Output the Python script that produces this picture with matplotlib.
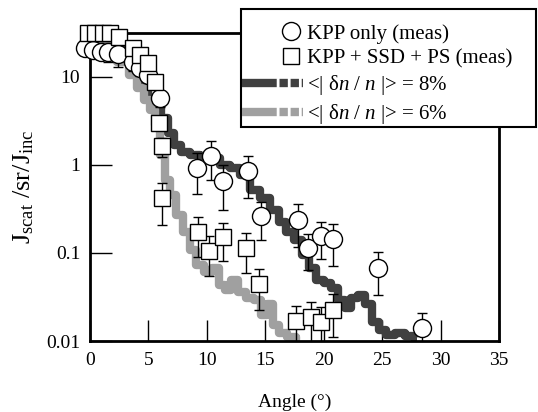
import matplotlib
matplotlib.use("Agg")
import matplotlib.pyplot as plt
from matplotlib.lines import Line2D
from matplotlib.patches import Rectangle
from matplotlib.legend_handler import HandlerLine2D

plt.rcParams['font.family'] = ['Liberation Serif', 'DejaVu Serif']
plt.rcParams['mathtext.fontset'] = 'custom'
plt.rcParams['mathtext.rm'] = 'Liberation Serif'
plt.rcParams['mathtext.it'] = 'Liberation Serif:italic'
plt.rcParams['lines.scale_dashes'] = False

# simulated curves (step-like)
sim8_x = [0.0, 1.7, 3.0, 3.85, 4.7, 5.3, 5.8, 6.4, 7.0, 7.45, 8.1, 9.0, 9.85, 10.7, 11.55,
          12.4, 13.25, 14.1, 15.0, 15.8, 16.5, 17.1, 17.8, 18.4, 19.0, 19.7, 20.35, 20.95,
          21.55, 22.05, 22.65, 23.25, 23.8, 24.4, 25.0, 25.65, 26.5, 27.4, 28.0]
sim8_y = [30, 26, 20, 14.8, 9.2, 5.5, 4.4, 3.4, 2.3, 1.69, 1.41, 1.30, 1.27, 1.20, 1.0,
          0.92, 0.77, 0.52, 0.42, 0.31, 0.225, 0.174, 0.14, 0.095, 0.068, 0.049, 0.046, 0.040,
          0.029, 0.024, 0.031, 0.033, 0.026, 0.0165, 0.0134, 0.0117, 0.0123, 0.0114, 0.0108]

sim6_x = [0.0, 1.7, 3.0, 3.7, 4.3, 4.9, 5.4, 5.8, 6.25, 6.65, 7.1, 7.7, 8.3, 8.8, 9.4,
          10.1, 10.8, 11.3, 11.8, 12.4, 13.0, 13.7, 14.4, 14.9, 15.4, 15.9, 16.5, 17.3, 18.0]
sim6_y = [30, 25, 14.8, 10.5, 7.5, 5.5, 4.2, 2.85, 1.30, 0.67, 0.46, 0.27, 0.174, 0.108, 0.073,
          0.061, 0.068, 0.043, 0.038, 0.049, 0.036, 0.031, 0.029, 0.0197, 0.026, 0.0152, 0.0123, 0.011, 0.0103]

# KPP only (meas)
kpp_x = [-0.4, 0.25, 0.95, 1.55, 2.4, 3.7, 4.3, 5.0, 6.0, 9.15, 10.35, 11.4, 13.5, 14.65,
         17.8, 18.65, 19.75, 20.8, 24.65, 28.4]
kpp_y = [21.3, 20.3, 19.2, 19.2, 18.2, 14.8, 12.7, 10.5, 5.8, 0.92, 1.27, 0.66, 0.85, 0.26,
         0.237, 0.114, 0.156, 0.144, 0.068, 0.014]
kpp_err = [4.5, 3.5, 3.2, 4.4, 5.2, 3.0, 2.5, 2.0, 1.2, 0.45, 0.6, 0.35, 0.43, 0.12,
           0.12, 0.05, 0.07, 0.072, 0.035, 0.007]

# KPP + SSD + PS (meas)
ssd_x = [-0.15, 0.45, 1.1, 1.7, 2.5, 3.7, 4.3, 5.0, 5.55, 5.9, 6.15, 6.15, 9.25, 10.2,
         11.4, 13.35, 14.45, 17.6, 18.9, 19.75, 20.8]
ssd_y = [31.6, 31.6, 31.6, 31.6, 28.5, 21.3, 17.8, 14.4, 8.8, 3.0, 1.64, 0.42, 0.174, 0.105,
         0.152, 0.114, 0.0445, 0.0168, 0.0187, 0.0164, 0.0225]
ssd_err = [3, 3, 3, 3, 3, 2.5, 2, 2, 1.5, 0.5, 0.4, 0.21, 0.085, 0.05,
           0.07, 0.055, 0.022, 0.008, 0.009, 0.008, 0.0115]

labels = ['KPP only (meas)', 'KPP + SSD + PS (meas)',
          '<| δ$n$ / $n$ |> = 8%', '<| δ$n$ / $n$ |> = 6%']

dark = '#404040'
light = '#a0a0a0'


class RightMarker(HandlerLine2D):
    # legend marker sits at the right end of the handle
    def create_artists(self, legend, orig_handle, xdescent, ydescent, width, height, fontsize, trans):
        arts = super().create_artists(legend, orig_handle, xdescent, ydescent, width, height, fontsize, trans)
        arts[-1].set_xdata([-xdescent + width - 9])
        return arts


fig = plt.figure(figsize=(5.38, 4.12), dpi=100)
ax = fig.add_axes([90/538, 1 - 341/412, 409/538, 308/412])

ax.plot(sim8_x, sim8_y, color=dark, lw=6, drawstyle='steps-mid', solid_capstyle='butt', zorder=2)
ax.plot(sim6_x, sim6_y, color=light, lw=6, drawstyle='steps-mid', solid_capstyle='butt', zorder=2)

ax.errorbar(kpp_x, kpp_y, yerr=kpp_err, fmt='none', ecolor='black', elinewidth=1,
            capsize=3.5, capthick=1, zorder=3)
ax.plot(kpp_x, kpp_y, 'o', ms=13, mfc='white', mec='black', mew=1, clip_on=False, zorder=4)
ax.errorbar(ssd_x, ssd_y, yerr=ssd_err, fmt='none', ecolor='black', elinewidth=1,
            capsize=3.5, capthick=1, zorder=5)
ax.plot(ssd_x, ssd_y, 's', ms=12, mfc='white', mec='black', mew=1, clip_on=False, zorder=6)

ax.set_yscale('log')
ax.set_xlim(0, 35)
ax.set_ylim(0.01, 31.6)
ax.set_xticks([0, 5, 10, 15, 20, 25, 30, 35])
ax.set_yticks([0.01, 0.1, 1, 10])
ax.set_yticklabels(['0.01', '0.1', '1', '10'])
ax.minorticks_off()
ax.tick_params(axis='both', direction='in', width=1, labelsize=14, top=False, right=False)
ax.tick_params(axis='x', length=15, pad=8)
ax.tick_params(axis='y', length=16, pad=7)
for s in ax.spines.values():
    s.set_linewidth(2)

ax.set_xlabel('Angle (°)', fontsize=14, labelpad=18)
ax.set_ylabel(r'J$_{\mathrm{scat}}$ /sr/J$_{\mathrm{inc}}$', fontsize=19, labelpad=7)

# legend (frame drawn separately so the paddings can differ)
h_kpp = Line2D([], [], ls='none', marker='o', ms=13, mfc='white', mec='black', mew=1)
h_ssd = Line2D([], [], ls='none', marker='s', ms=12, mfc='white', mec='black', mew=1)
h_8 = Line2D([], [], color=dark, lw=6, dashes=(25, 2, 6, 2, 6, 2), dash_capstyle='butt')
h_6 = Line2D([], [], color=light, lw=6, dashes=(25, 2, 6, 2, 6, 2), dash_capstyle='butt')
leg = fig.legend([h_kpp, h_ssd, h_8, h_6], labels,
                 loc='upper left', bbox_to_anchor=(242/538, 1 - 24/412),
                 numpoints=1, fontsize=15, handlelength=2.95, handletextpad=0.15,
                 borderpad=0, labelspacing=0.24, borderaxespad=0, frameon=False,
                 handler_map={h_kpp: RightMarker(), h_ssd: RightMarker()})
leg.set_zorder(10)
fig.patches.append(Rectangle((241/538, 1 - 127/412), 295/538, 118/412, transform=fig.transFigure,
                             facecolor='white', edgecolor='black', lw=1.5, zorder=9))

fig.savefig('out.png', dpi=100)
